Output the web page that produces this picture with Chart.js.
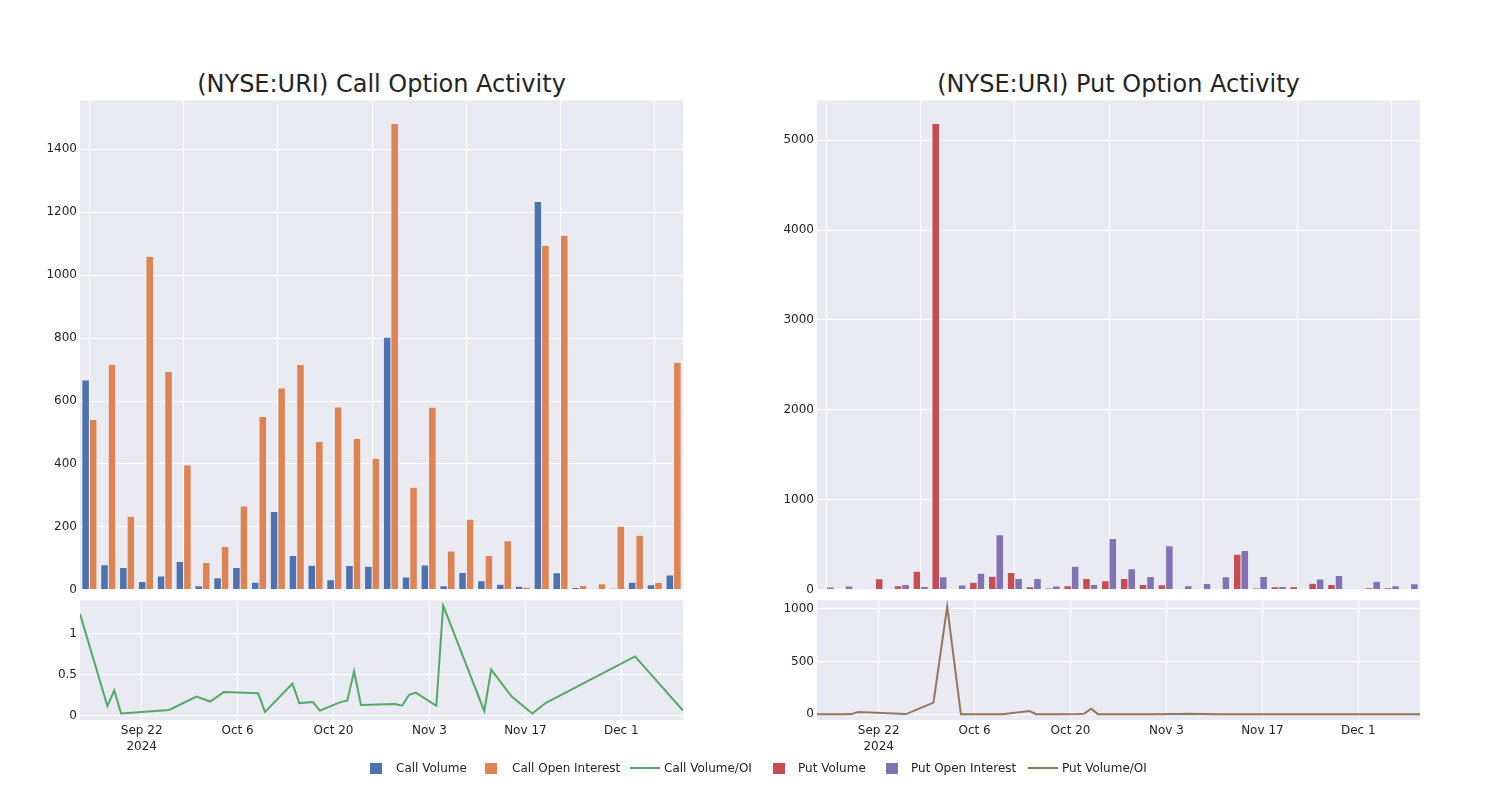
<!DOCTYPE html>
<html><head><meta charset="utf-8">
<script src="https://cdn.jsdelivr.net/npm/chart.js@4.4.1/dist/chart.umd.min.js"></script>
<style>
body{margin:0;background:#fff;width:1500px;height:800px;position:relative;overflow:hidden;font-family:"DejaVu Sans",sans-serif;}
canvas{position:absolute;}
.title{position:absolute;font-size:24px;line-height:28px;color:rgb(36,36,36);text-align:center;white-space:nowrap;}
.lgt{position:absolute;font-size:12px;line-height:14px;color:rgb(36,36,36);white-space:nowrap;top:761px;}
.lgb{position:absolute;width:12px;height:11px;top:763px;}
.lgl{position:absolute;width:30px;height:2px;top:767px;}
</style></head><body>
<div class="title" style="left:80px;width:603px;top:70px">(NYSE:URI) Call Option Activity</div>
<div class="title" style="left:817px;width:603px;top:70px">(NYSE:URI) Put Option Activity</div>
<canvas id="c1" width="700" height="510" style="left:0;top:90px"></canvas>
<canvas id="c2" width="700" height="170" style="left:0;top:590px"></canvas>
<canvas id="c3" width="700" height="510" style="left:737px;top:90px"></canvas>
<canvas id="c4" width="700" height="170" style="left:737px;top:590px"></canvas>
<div id="legend"></div>
<script>
// ---- data ----
const dates = ["2024-09-13","2024-09-17","2024-09-18","2024-09-19","2024-09-26","2024-09-30","2024-10-02","2024-10-04",
  "2024-10-09","2024-10-10","2024-10-14","2024-10-15","2024-10-17","2024-10-18","2024-10-21","2024-10-22",
  "2024-10-23","2024-10-24","2024-10-29","2024-10-30","2024-10-31","2024-11-01","2024-11-04","2024-11-05",
  "2024-11-06","2024-11-11","2024-11-12","2024-11-15","2024-11-18","2024-11-20","2024-12-03","2024-12-10"];
const callVolume = [667,80,71,26,44,90,13,38,71,24,249,109,78,32,77,75,803,41,79,13,55,29,18,11,1234,54,7,3,5,24,16,47];
const callOpenInterest = [541,717,234,1060,694,397,87,138,266,551,641,716,471,581,481,418,1482,326,580,123,224,109,156,8,1095,1127,14,19,202,173,23,723];
const callVolOI = [1.238,0.115,0.306,0.024,0.067,0.23,0.17,0.286,0.27,0.044,0.389,0.151,0.163,0.06,0.163,0.18,0.54,0.127,0.139,0.119,0.25,0.278,0.119,1.337,1.127,0.052,0.56,0.23,0.024,0.155,0.72,0.06];
const putVolume = [3,7,3,122,44,207,5185,7,85,152,193,33,19,44,126,100,126,59,56,6,5,2,396,19,33,33,74,59,5,22,22,15];
const putOpenInterest = [30,41,3,3,59,37,145,52,185,611,126,126,41,263,59,571,233,148,489,44,70,145,437,148,37,5,119,159,0,96,44,67];
const putVolOI = [0,0,1,20,1,110,1020,0.1,0.5,0.25,30,0.3,0.5,0.2,2,5,52,0.4,0.1,0.1,0.2,0.3,2,3,5,0.5,0.3,0.2,0.2,0.2,0.3,0.1];
const dateTicks = ["2024-09-22","2024-10-06","2024-10-20","2024-11-03","2024-11-17","2024-12-01"];
const dateTickLabels = [["Sep 22","2024"],"Oct 6","Oct 20","Nov 3","Nov 17","Dec 1"];
const callBarTicks = [0,200,400,600,800,1000,1200,1400];
const putBarTicks = [0,1000,2000,3000,4000,5000];
const callRatioTicks = [0,0.5,1];
const putRatioTicks = [0,500,1000];

// ---- styles ----
const C = {
  blue:'rgb(76,114,176)', orange:'rgb(221,132,82)', green:'rgb(85,168,104)',
  red:'rgb(196,78,82)', purple:'rgb(129,114,179)', brown:'rgb(147,120,96)',
  bg:'rgb(234,234,242)', text:'rgb(36,36,36)'
};
const FONT = {family:'DejaVu Sans', size:12};
const toDay = s => Date.UTC(+s.slice(0,4), +s.slice(5,7)-1, +s.slice(8,10)) / 86400000;
const dayVals = dates.map(toDay);
const tickDays = dateTicks.map(toDay);

const bgPlugin = {
  id:'bg',
  beforeDraw(chart){
    const a = chart.chartArea, c = chart.ctx;
    c.save(); c.fillStyle = C.bg; c.fillRect(a.left, a.top, a.right-a.left, a.bottom-a.top); c.restore();
  }
};

function yAxis(min, max, ticks){
  return {
    type:'linear', min, max,
    afterBuildTicks: s => { s.ticks = ticks.map(v => ({value:v})); },
    afterFit: s => { s.width = 80; },
    grid:{color:'#ffffff', lineWidth:1, drawTicks:false},
    border:{display:false},
    ticks:{color:C.text, font:FONT, padding:3, callback: v => String(v)}
  };
}

function barChart(id, labels, a, b, colA, colB, yMax, yTicks){
  return new Chart(document.getElementById(id), {
    type:'bar',
    data:{labels, datasets:[
      {data:a, backgroundColor:colA, borderColor:C.bg, borderWidth:0.5, categoryPercentage:0.8, barPercentage:1.0},
      {data:b, backgroundColor:colB, borderColor:C.bg, borderWidth:0.5, categoryPercentage:0.8, barPercentage:1.0}
    ]},
    options:{
      responsive:false, animation:false, events:[],
      layout:{padding:{top:10, right:17, bottom:10, left:0}},
      plugins:{legend:{display:false}, tooltip:{enabled:false}},
      scales:{
        x:{type:'category', offset:true,
           grid:{offset:false, drawTicks:false, lineWidth:1,
                 color: ctx => (ctx.index % 5 === 0 ? '#ffffff' : 'rgba(0,0,0,0)')},
           border:{display:false},
           ticks:{display:false},
           afterFit: s => { s.height = 0; }},
        y: yAxis(0, yMax, yTicks)
      }
    },
    plugins:[bgPlugin]
  });
}

function lineChart(id, vals, col, yMin, yMax, yTicks){
  return new Chart(document.getElementById(id), {
    type:'line',
    data:{datasets:[{data: vals.map((v,i) => ({x:dayVals[i], y:v})), borderColor:col, borderWidth:2,
      pointRadius:0, tension:0, fill:false}]},
    options:{
      responsive:false, animation:false, events:[],
      layout:{padding:{top:7, right:17, bottom:0, left:0}},
      plugins:{legend:{display:false}, tooltip:{enabled:false}},
      scales:{
        x:{type:'linear', min:dayVals[0], max:dayVals[dayVals.length-1],
           afterBuildTicks: s => { s.ticks = tickDays.map(v => ({value:v})); },
           afterFit: s => { s.height = 40; },
           grid:{color:'#ffffff', lineWidth:1, drawTicks:false},
           border:{display:false},
           ticks:{color:C.text, font:{family:'DejaVu Sans', size:12, lineHeight:1.35}, padding:3, maxRotation:0,
                  autoSkip:false,
                  callback: v => { const k = tickDays.indexOf(v); return k >= 0 ? dateTickLabels[k] : ''; }}},
        y: yAxis(yMin, yMax, yTicks)
      }
    },
    plugins:[bgPlugin]
  });
}

barChart('c1', dates, callVolume, callOpenInterest, C.blue, C.orange, 1556, callBarTicks);
lineChart('c2', callVolOI, C.green, -0.055, 1.405, callRatioTicks);
barChart('c3', dates, putVolume, putOpenInterest, C.red, C.purple, 5444, putBarTicks);
lineChart('c4', putVolOI, C.brown, -55, 1080, putRatioTicks);

// ---- legend (HTML) ----
const legendItems = [
  {kind:'box', color:C.blue, x:370, tx:396, text:'Call Volume'},
  {kind:'box', color:C.orange, x:485, tx:512, text:'Call Open Interest'},
  {kind:'line', color:C.green, x:630, tx:664, text:'Call Volume/OI'},
  {kind:'box', color:C.red, x:773, tx:798, text:'Put Volume'},
  {kind:'box', color:C.purple, x:886, tx:911, text:'Put Open Interest'},
  {kind:'line', color:C.brown, x:1028, tx:1062, text:'Put Volume/OI'}
];
const lg = document.getElementById('legend');
legendItems.forEach(it => {
  const m = document.createElement('div');
  m.className = it.kind === 'box' ? 'lgb' : 'lgl';
  m.style.left = it.x + 'px'; m.style.background = it.color;
  lg.appendChild(m);
  const t = document.createElement('div');
  t.className = 'lgt'; t.style.left = it.tx + 'px'; t.textContent = it.text;
  lg.appendChild(t);
});
</script>
</body></html>
